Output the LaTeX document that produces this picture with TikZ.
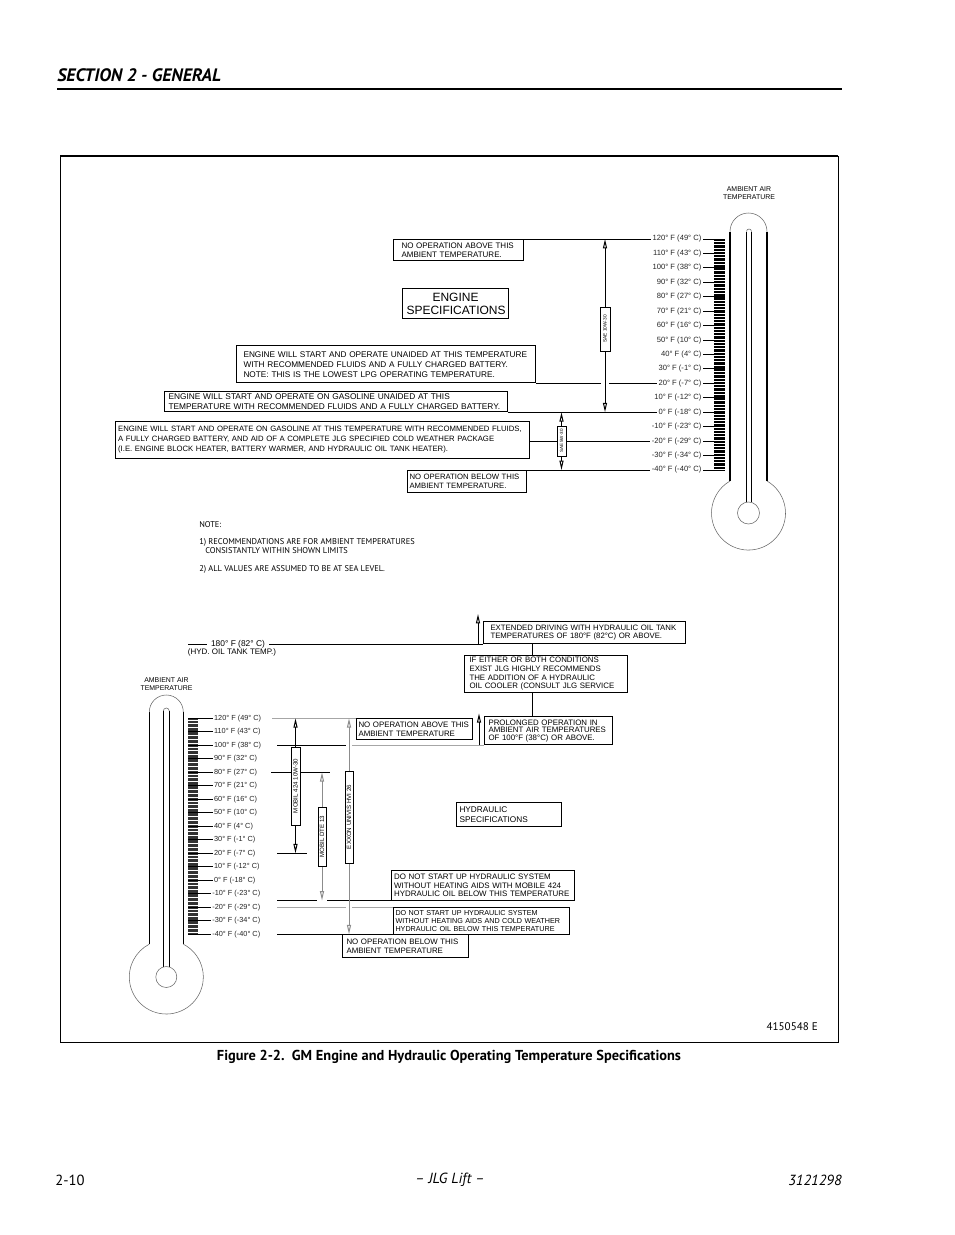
\documentclass[tikz,border=0pt]{standalone}
\usepackage{fontspec}
\setmainfont{Liberation Sans}
\newfontfamily\ptsans{PT Sans}
\usetikzlibrary{arrows.meta,calc}
\newcommand\fsz[2]{\fontsize{#1}{#2}\selectfont}
\begin{document}
\begin{tikzpicture}[x=0.75pt,y=-0.75pt,
 ln/.style={line width=0.75pt},
 gl/.style={line width=1.1pt, draw=black!35},
 arr/.style={line width=0.75pt, -{Triangle[open,length=7pt,width=3pt]}},
 garr/.style={arr, draw=black!45},
 tb/.style={draw, line width=0.75pt, inner ysep=0pt, align=left, anchor=north west},
 rb/.style={draw, line width=0.75pt, fill=white, rotate=90, inner sep=0pt},
 lab/.style={inner sep=1pt, text=black!85, font=\fsz{5.7}{7}},
 tick/.style={line width=0.3pt},
 thinl/.style={line width=0.4pt, draw=black!60},
 tube/.style={line width=0.9pt},
]
\useasboundingbox (0,0) rectangle (954,1235);
\fill[white] (0,0) rectangle (954,1235);

% page header / footer
\node[font=\ptsans\bfseries\itshape\fsz{13.5}{15}, anchor=west, inner sep=0] (hdr) at (57,75) {SECTION 2 - GENERAL};
\draw[line width=0.9pt] (57,89) -- (842,89);
\node[font=\ptsans\bfseries\fsz{10.8}{12}] (cap) at (449,1057) {Figure 2-2.\ \ GM Engine and Hydraulic Operating Temperature Specifications};
\node[font=\ptsans\fsz{11}{13}, anchor=west, inner sep=0] (pg) at (55,1180) {2-10};
\node[font=\ptsans\itshape\fsz{11}{13}] (mid) at (450,1180) {– JLG Lift –};
\node[font=\ptsans\itshape\fsz{11}{13}, anchor=east, inner sep=0] (doc) at (842,1180) {3121298};

% frame
\draw[line width=0.75pt] (60,156) rectangle (838,1042);
\draw[line width=1.6pt] (60,156) -- (838,156);
\node[font=\ptsans\fsz{8.3}{9}, anchor=east, inner sep=0] (fig) at (818,1027) {4150548 E};

% ---------- top thermometer ----------
\node[align=center, inner sep=0, font=\fsz{5.2}{6}] (amb1) at (749,193) {AMBIENT AIR\\TEMPERATURE};
\draw[tube] (730,231.5) -- (730,481);
\draw[tube] (767,231.5) -- (767,481);
\draw[thinl] (730,231.5) arc[start angle=180, end angle=360, radius=18.5];
\draw[thinl] (767,481) arc[start angle=-60, end angle=240, radius=37];
\draw[tube] (746.5,231.5) -- (746.5,502.2);
\draw[tube] (751.5,231.5) -- (751.5,502.2);
\draw[thinl] (746.5,231.5) arc[start angle=180, end angle=360, radius=2.5];
\draw[thinl] (748.5,513) circle[radius=11];
\foreach \k in {0,...,160} \draw[tick] (714,{239+\k*1.44375}) -- (725,{239+\k*1.44375});

% ---------- bottom thermometer ----------
\node[align=center, inner sep=0, font=\fsz{5.2}{6}] (amb2) at (166.5,684.5) {AMBIENT AIR\\TEMPERATURE};
\draw[tube] (149.3,712) -- (149.3,944.15);
\draw[tube] (183.3,712) -- (183.3,944.15);
\draw[thinl] (149.3,712) arc[start angle=180, end angle=360, radius=17];
\draw[thinl] (183.3,944.15) arc[start angle=-62.66, end angle=242.66, radius=37];
\draw[tube] (163.3,711) -- (163.3,966.9);
\draw[tube] (169.3,711) -- (169.3,966.9);
\draw[thinl] (163.3,711) arc[start angle=180, end angle=360, radius=3];
\draw[thinl] (166.3,977) circle[radius=10.5];
\foreach \k in {0,...,160} \draw[tick, draw=black!80] (188,{718.3+\k*1.35}) -- (198,{718.3+\k*1.35});

% scale labels
\foreach \f/\c [count=\i from 0] in {120/49,110/43,100/38,90/32,80/27,70/21,60/16,50/10,40/4,30/-1,20/-7,10/-12,0/-18,-10/-23,-20/-29,-30/-34,-40/-40} {
  \node[lab, anchor=east] (t\i) at (703,{239+\i*14.4375}) {\f° F (\c° C)};
  \draw[ln] (t\i.east) -- (725,{239+\i*14.4375});
  \node[lab, anchor=west, font=\fsz{5.5}{7}] (b\i) at ({\f<0 ? 210.8 : 212.5},{718.3+\i*13.5}) {\f° F (\c° C)};
  \draw[ln] (188,{718.3+\i*13.5}) -- (b\i.west);
}

% ---------- engine section ----------
\node[tb, inner xsep=6pt, text width=85.5pt, minimum height=15.75pt, font=\fsz{6}{6.75}] (A) at (393,239) {NO OPERATION ABOVE THIS\\AMBIENT TEMPERATURE.};
\node[draw, line width=0.75pt, align=center, anchor=north west, inner xsep=3pt, inner ysep=0pt, text width=73.5pt, minimum height=22.5pt, font=\fsz{9}{9.75}] (B) at (402,288) {ENGINE\\SPECIFICATIONS};
\node[tb, anchor=south west, inner xsep=5.25pt, text width=213.75pt, minimum height=28pt, font=\fsz{6.2}{7.5}] (C) at (236,383.375) {ENGINE WILL START AND OPERATE UNAIDED AT THIS TEMPERATURE\\WITH RECOMMENDED FLUIDS AND A FULLY CHARGED BATTERY.\\NOTE: THIS IS THE LOWEST LPG OPERATING TEMPERATURE.};
\node[tb, anchor=south west, inner xsep=3pt, text width=251.25pt, minimum height=15.2pt, font=\fsz{6.25}{7.5}] (D) at (164,412.25) {ENGINE WILL START AND OPERATE ON GASOLINE UNAIDED AT THIS\\TEMPERATURE WITH RECOMMENDED FLUIDS AND A FULLY CHARGED BATTERY.};
\node[tb, inner xsep=2pt, text width=306.5pt, minimum height=27.75pt, font=\fsz{5.8}{7.5}] (E) at (115,421) {ENGINE WILL START AND OPERATE ON GASOLINE AT THIS TEMPERATURE WITH RECOMMENDED FLUIDS,\\A FULLY CHARGED BATTERY, AND AID OF A COMPLETE JLG SPECIFIED COLD WEATHER PACKAGE\\(I.E. ENGINE BLOCK HEATER, BATTERY WARMER, AND HYDRAULIC OIL TANK HEATER).};
\node[tb, inner xsep=1.5pt, text width=86.25pt, minimum height=16.5pt, font=\fsz{5.8}{6.75}] (F) at (407,470) {NO OPERATION BELOW THIS\\AMBIENT TEMPERATURE.};

\node[rb, minimum width=33pt, minimum height=7.5pt, font=\fsz{3.6}{4}] (s10) at (605,329) {SAE 10W-30};
\node[rb, minimum width=22.5pt, minimum height=6.75pt, font=\fsz{3.4}{4}] (s5) at (561.5,441.125) {SAE 5W-30};

\draw[ln] (A.north east) -- (t0.west);
\draw[ln] (C.south east) -- ($(s10.center |- t10.west)+(-4,0)$);
\draw[ln] ($(s10.center |- t10.west)+(4,0)$) -- (t10.west);
\draw[ln] (D.south east) -- (t12.west);
\draw[ln] (E.east |- t14.west) -- (s5.north);
\draw[ln] (s5.south) -- (t14.west);
\draw[ln] (F.north east) -- (t16.west);
\draw[arr] (s10.east) -- (s10.east |- t0.west);
\draw[arr] (s10.west) -- (s10.west |- t12.west);
\draw[arr] (s5.east) -- (s5.east |- t12.west);
\draw[arr] (s5.west) -- (s5.west |- t16.west);

% notes
\node[anchor=west, inner sep=0, font=\ptsans\fsz{6.3}{7}] (nt) at (199,525) {NOTE:};
\node[anchor=west, inner sep=0, font=\ptsans\fsz{6.3}{7}] (n1) at (199,542) {1) RECOMMENDATIONS ARE FOR AMBIENT TEMPERATURES};
\node[anchor=west, inner sep=0, font=\ptsans\fsz{6.3}{7}] (n1b) at (205,551) {CONSISTANTLY WITHIN SHOWN LIMITS};
\node[anchor=west, inner sep=0, font=\ptsans\fsz{6.3}{7}] (n2) at (199,569) {2) ALL VALUES ARE ASSUMED TO BE AT SEA LEVEL.};

% ---------- hydraulic section ----------
\coordinate (lx) at (277,800);
\coordinate (cx) at (532,700);
\coordinate (hl) at (188,644);
\node[inner xsep=3pt, inner ysep=1pt, font=\fsz{6.3}{7}] (h1) at (238,644) {180° F (82° C)};
\node[inner sep=1pt, font=\fsz{6}{7}] (h2) at (232,652.5) {(HYD. OIL TANK TEMP.)};

\node[tb, anchor=south west, inner xsep=5.25pt, text width=141pt, minimum height=16.5pt, font=\fsz{5.85}{6.25}] (G) at (483,644) {EXTENDED DRIVING WITH HYDRAULIC OIL TANK\\TEMPERATURES OF 180°F (82°C) OR ABOVE.};
\node[tb, inner xsep=3.75pt, text width=114.75pt, minimum height=27.75pt, font=\fsz{5.9}{6.5}] (H) at (464,655) {IF EITHER OR BOTH CONDITIONS\\EXIST JLG HIGHLY RECOMMENDS\\THE ADDITION OF A HYDRAULIC\\OIL COOLER (CONSULT JLG SERVICE};
\node[tb, anchor=south west, inner xsep=3pt, text width=90pt, minimum height=21pt, font=\fsz{5.9}{5.5}] (I) at (484,745.3) {PROLONGED OPERATION IN\\AMBIENT AIR TEMPERATURES\\OF 100°F (38°C) OR ABOVE.};
\node[tb, inner xsep=1.5pt, text width=84pt, minimum height=15.75pt, font=\fsz{5.9}{6.25}] (J) at (356,718.3) {NO OPERATION ABOVE THIS\\AMBIENT TEMPERATURE};
\node[tb, inner xsep=2.25pt, text width=74.25pt, minimum height=18pt, font=\fsz{6.2}{7.5}] (K) at (456,802) {HYDRAULIC\\SPECIFICATIONS};
\node[tb, anchor=south west, inner xsep=2pt, text width=133.25pt, minimum height=22.1pt, font=\fsz{5.95}{6.25}] (L) at (391,900.5) {DO NOT START UP HYDRAULIC SYSTEM\\WITHOUT HEATING AIDS WITH MOBILE 424\\HYDRAULIC OIL BELOW THIS TEMPERATURE};
\node[tb, inner xsep=1.5pt, text width=129pt, minimum height=20pt, font=\fsz{5.4}{6.25}] (M) at (393,907.3) {DO NOT START UP HYDRAULIC SYSTEM\\WITHOUT HEATING AIDS AND COLD WEATHER\\HYDRAULIC OIL BELOW THIS TEMPERATURE};
\node[tb, inner xsep=3pt, text width=88.5pt, minimum height=17pt, font=\fsz{5.9}{6.25}] (N) at (342,934.3) {NO OPERATION BELOW THIS\\AMBIENT TEMPERATURE};

\node[rb, minimum width=58.5pt, minimum height=6.75pt, font=\fsz{4.6}{5}] (m424) at (295.5,786) {MOBIL 424 10W-30};
\node[rb, minimum width=44.25pt, minimum height=6pt, font=\fsz{4.6}{5}] (dte) at (322,836.5) {MOBIL DTE 13};
\node[rb, minimum width=69pt, minimum height=6pt, font=\fsz{4.6}{5}] (exx) at (349,817) {EXXON UNIVIS HVI 26};

% 180 F line and upper chain
\draw[ln] (hl) -- (h1.west);
\draw[ln] (h1.east) -- (G.south west);
\draw[arr] ($(G.south west)+(-5,0)$) -- ($(G.north west)+(-5,-7)$);
\draw[ln] (G.south -| cx) -- (H.north -| cx);
\draw[ln] (H.south -| cx) -- (I.north -| cx);

% scale lines
\draw[gl] ($(lx |- b0.west)+(-5,0)$) -- (J.north west);
\draw[ln] (lx |- b2.west) -- ($(exx.center |- b2.west)+(-3,0)$);
\draw[gl] ($(exx.center |- b2.west)+(3,0)$) -- (I.south west);
\draw[arr] ($(I.south west)+(-5,0)$) -- ($(I.north west)+(-5,-3)$);
\draw[ln] ($(lx |- b4.west)+(-6,0)$) -- (m424.north |- b4.west);
\draw[ln] (m424.south |- b4.west) -- ($(dte.center |- b4.west)+(8,0)$);
\draw[ln] (lx |- b10.west) -- ($(m424.center |- b10.west)+(11,0)$);
\draw[ln] (lx |- L.south) -- ($(dte.center |- L.south)+(-5,0)$);
\draw[ln] ($(dte.center |- L.south)+(5,0)$) -- (L.south west);
\draw[gl] (lx |- b14.west) -- ($(exx.center |- b14.west)+(-3,0)$);
\draw[gl] ($(exx.center |- b14.west)+(3,0)$) -- (M.north west);
\draw[ln] (lx |- b16.west) -- (N.north west);

% oil range arrows
\draw[arr] (m424.east) -- (m424.east |- b0.west);
\draw[arr] (m424.west) -- (m424.west |- b10.west);
\draw[garr] (dte.east) -- (dte.east |- b4.west);
\draw[garr] (dte.west) -- (dte.west |- L.south);
\draw[garr] (exx.east) -- (exx.east |- b0.west);
\draw[garr] (exx.west) -- (exx.west |- b16.west);
\end{tikzpicture}
\end{document}
